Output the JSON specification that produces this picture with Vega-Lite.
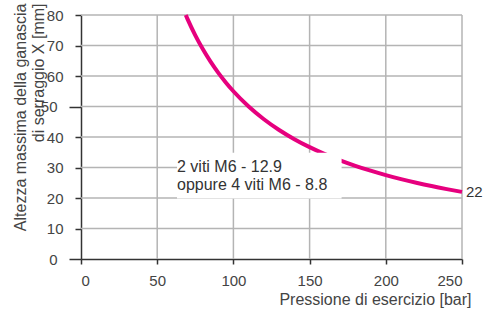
{
  "$schema": "https://vega.github.io/schema/vega-lite/v6.json",
  "width": 381,
  "height": 244,
  "autosize": {"type": "none"},
  "padding": {"left": 81, "top": 15, "right": 23, "bottom": 53},
  "background": "white",
  "config": {
    "view": {"stroke": null},
    "font": "Liberation Sans",
    "axis": {
      "grid": false,
      "domainColor": "#333333",
      "domainWidth": 1.5,
      "tickColor": "#333333",
      "tickWidth": 1.5,
      "labelFont": "Liberation Sans",
      "labelFontSize": 15,
      "labelColor": "#444444",
      "labelOverlap": false,
      "titleFont": "Liberation Sans",
      "titleFontSize": 16,
      "titleFontWeight": "normal",
      "titleColor": "#444444"
    }
  },
  "encoding": {
    "x": {"field": "x", "type": "quantitative",
          "scale": {"domain": [0, 250], "nice": false},
          "axis": {"values": [0, 50, 100, 150, 200, 250], "tickSize": 5, "labelPadding": 9,
                   "title": "Pressione di esercizio [bar]", "titleAnchor": "end", "titleAlign": "right",
                   "titleX": 390, "titleY": 45, "titleBaseline": "alphabetic"}},
    "y": {"field": "y", "type": "quantitative",
          "scale": {"domain": [0, 80], "nice": false},
          "axis": {"values": [0, 10, 20, 30, 40, 50, 60, 70, 80],
                   "tickSize": {"condition": {"test": "datum.value % 50 === 0", "value": 12}, "value": 6},
                   "labelPadding": 12,
                   "title": ["Altezza massima della ganascia", "di serraggio X [mm]"],
                   "titleAnchor": "end", "titleAngle": 270, "titleAlign": "right",
                   "titleBaseline": "top", "titleX": -69, "titleY": -12, "titleLineHeight": 18}}
  },
  "layer": [
    {
      "data": {"values": [
        {"x": 50, "y": 0, "y2": 80}, {"x": 100, "y": 0, "y2": 80}, {"x": 150, "y": 0, "y2": 80},
        {"x": 200, "y": 0, "y2": 80}, {"x": 250, "y": 0, "y2": 80}
      ]},
      "mark": {"type": "rule", "color": "#b4b4b4", "strokeWidth": 1.5},
      "encoding": {"y2": {"field": "y2"}}
    },
    {
      "data": {"values": [
        {"x": 0, "x2": 250, "y": 10}, {"x": 0, "x2": 250, "y": 20}, {"x": 0, "x2": 250, "y": 30},
        {"x": 0, "x2": 250, "y": 40}, {"x": 0, "x2": 250, "y": 50}, {"x": 0, "x2": 250, "y": 60},
        {"x": 0, "x2": 250, "y": 70}, {"x": 0, "x2": 250, "y": 80}
      ]},
      "mark": {"type": "rule", "color": "#b4b4b4", "strokeWidth": 1.5},
      "encoding": {"x2": {"field": "x2"}}
    },
    {
      "data": {"values": [
        {"x": 68.75, "y": 80}, {"x": 70, "y": 78.57}, {"x": 75, "y": 73.33}, {"x": 80, "y": 68.75},
        {"x": 85, "y": 64.71}, {"x": 90, "y": 61.11}, {"x": 95, "y": 57.89}, {"x": 100, "y": 55},
        {"x": 110, "y": 50}, {"x": 120, "y": 45.83}, {"x": 130, "y": 42.31}, {"x": 140, "y": 39.29},
        {"x": 150, "y": 36.67}, {"x": 160, "y": 34.38}, {"x": 170, "y": 32.35}, {"x": 180, "y": 30.56},
        {"x": 190, "y": 28.95}, {"x": 200, "y": 27.5}, {"x": 210, "y": 26.19}, {"x": 220, "y": 25},
        {"x": 230, "y": 23.91}, {"x": 240, "y": 22.92}, {"x": 250, "y": 22}
      ]},
      "mark": {"type": "line", "color": "#e6007e", "strokeWidth": 4, "interpolate": "monotone"}
    },
    {
      "data": {"values": [{"x": 63, "x2": 171, "y": 19.8, "y2": 34.8}]},
      "mark": {"type": "rect", "color": "white", "opacity": 1},
      "encoding": {
        "x2": {"field": "x2"},
        "y2": {"field": "y2"}
      }
    },
    {
      "data": {"values": [
        {"x": 63, "y": 30.2, "label": "2 viti M6 - 12.9"},
        {"x": 63, "y": 24.3, "label": "oppure 4 viti M6 - 8.8"}
      ]},
      "mark": {"type": "text", "align": "left", "baseline": "middle", "fontSize": 16, "color": "#333333"},
      "encoding": {
        "text": {"field": "label"}
      }
    },
    {
      "data": {"values": [{"x": 250, "y": 22, "label": "22"}]},
      "mark": {"type": "text", "align": "left", "baseline": "middle", "fontSize": 15, "dx": 4, "color": "#333333"},
      "encoding": {
        "text": {"field": "label"}
      }
    }
  ]
}
